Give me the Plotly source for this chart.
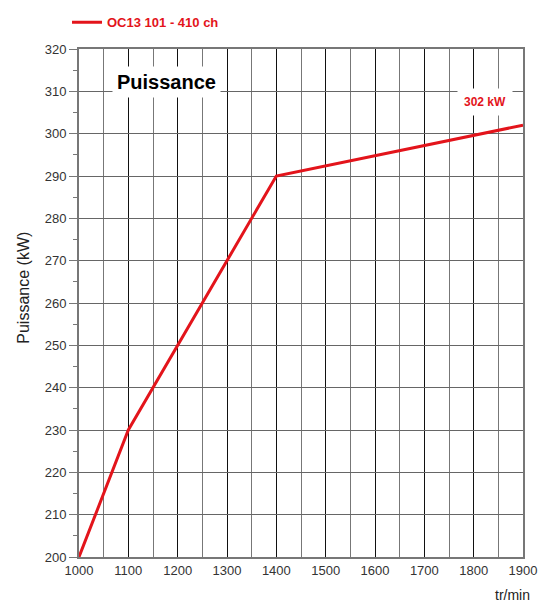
import plotly.graph_objects as go

rpm = [1000, 1100, 1400, 1900]
power_kw = [200, 230, 290, 302]
series_name = "OC13 101 - 410 ch"
max_label = "302 kW"

RED = "#e3141b"

fig = go.Figure()
fig.add_trace(go.Scatter(x=rpm, y=power_kw, mode="lines", name="<b>" + series_name + "</b>",
                         line=dict(color=RED, width=3), showlegend=True))

fig.update_layout(
    width=540, height=603,
    margin=dict(l=79, r=17, t=49, b=46, autoexpand=False),
    paper_bgcolor="white", plot_bgcolor="white",
    font=dict(family="Liberation Sans, Arial", size=13, color="#333"),
    showlegend=True,
    legend=dict(orientation="h", x=-0.027, y=1.023, xanchor="left", yanchor="bottom",
                font=dict(color=RED, size=13, family="Liberation Sans, Arial"),
                itemwidth=30, bgcolor="rgba(0,0,0,0)"),
)
fig.update_xaxes(range=[1000, 1900], dtick=100, tick0=1000,
                 showgrid=True, gridcolor="#111", gridwidth=1,
                 minor=dict(dtick=50, showgrid=True, gridcolor="#777", gridwidth=1),
                 showline=True, linecolor="#777", linewidth=2, mirror=True,
                 ticks="", tickfont=dict(size=13, color="#333"), zeroline=False,
                 ticklabeloverflow="allow")
fig.update_yaxes(range=[200, 320], dtick=10, tick0=200,
                 showgrid=True, gridcolor="#666", gridwidth=1,
                 showline=True, linecolor="#777", linewidth=2, mirror=True,
                 ticks="outside", ticklen=8, tickcolor="#777",
                 minor=dict(dtick=5, ticks="outside", ticklen=4, tickcolor="#777", showgrid=False),
                 tickfont=dict(size=13, color="#333"), zeroline=False)

# axis titles
fig.add_annotation(x=-0.124, y=0.53, xref="paper", yref="paper", text="Puissance (kW)",
                   textangle=-90, showarrow=False, xanchor="center", yanchor="middle",
                   font=dict(size=16, color="#222"))
fig.add_annotation(x=1.02, y=-0.075, xref="paper", yref="paper", text="tr/min",
                   showarrow=False, xanchor="right", yanchor="middle",
                   font=dict(size=14, color="#222"))

fig.add_annotation(x=0.198, y=0.935, xref="paper", yref="paper", text="<b>Puissance</b>",
                   showarrow=False, xanchor="center", yanchor="middle",
                   font=dict(size=20, color="black"), bgcolor="white", borderpad=4)
fig.add_annotation(x=0.914, y=0.895, xref="paper", yref="paper", text="<b>" + max_label + "</b>",
                   showarrow=False, xanchor="center", yanchor="middle",
                   font=dict(size=12, color=RED), bgcolor="white", borderpad=6)

# drop the default 8px body margin so the figure fills the window exactly
fig.write_html("out.html", config={"displayModeBar": False},
               post_script="document.body.style.margin='0';")
